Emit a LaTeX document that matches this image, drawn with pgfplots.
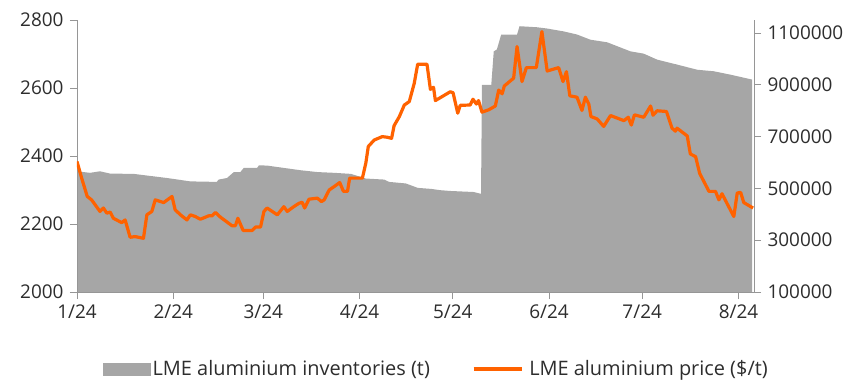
\documentclass[border=0pt]{standalone}
\usepackage{pgfplots}
\pgfplotsset{compat=1.18}
\usepackage{fontspec}
\setmainfont{Open Sans}

\definecolor{invgray}{RGB}{166,166,166}
\definecolor{ingorange}{RGB}{255,98,0}
\definecolor{axgray}{RGB}{150,150,150}
\definecolor{txt}{RGB}{45,45,45}

\pgfplotsset{
  common/.style={
    scale only axis, width=677bp, height=272bp,
    at={(0,0)}, anchor=south west,
    xmin=0, xmax=218,
    tick align=outside, major tick length=7bp,
    every tick/.style={axgray, line width=0.8bp},
    axis line style={axgray, line width=0.8bp},
    tick label style={font=\fontsize{19}{23}\selectfont, text=txt},
    /pgf/number format/assume math mode=true,
    /pgf/number format/fixed,
    /pgf/number format/1000 sep={},
    scaled y ticks=false,
  }
}

\begin{document}
\begin{tikzpicture}
\path[use as bounding box] (-77bp,-89bp) rectangle (779bp,292bp);

% LME inventories (right axis), drawn first as the grey area
\begin{axis}[common,
  axis x line=none, axis y line*=right,
  ymin=100000, ymax=1150000,
  ytick={100000,300000,500000,700000,900000,1100000},
  yticklabels={100000,300000,500000,700000,900000,1100000},
  yticklabel style={xshift=3bp},
]
\addplot[fill=invgray, draw=none] coordinates {
(0,566000) (4.2,560000) (7.4,566000) (10.7,557000) (18.2,556000)
(29,540000) (36.5,527000) (45,525000) (45.6,534000) (48.3,540000)
(50.5,563000) (52.6,563000) (53.7,579000) (58,579000) (58.6,589000)
(61.2,588000) (66.6,579000) (72,570000) (77.4,563000) (82.8,560000)
(88.2,556000) (93,538000) (98.9,534000) (100.5,525000) (105.9,519000)
(109.7,502000) (114,498000) (117,493000) (120.2,490000) (127.7,486000)
(129.7,480000) (130.1,480000) (130.4,900000) (133.4,900000) (134.2,1029000)
(135.2,1036000) (136.6,1094000) (141.7,1094000) (142.5,1126000) (148.1,1122000)
(151.4,1117000) (156.7,1106000) (161,1094000) (165.3,1074000) (170.7,1064000)
(178.2,1029000) (182.5,1020000) (186.8,997000) (193.2,978000) (199.7,958000)
(205.1,952000) (210.4,939000) (217.4,920000)
} \closedcycle;
\end{axis}

% LME price (left axis) with dates along the bottom
\begin{axis}[common,
  axis x line*=bottom, axis y line*=left,
  ymin=2000, ymax=2800,
  ytick={2000,2200,2400,2600,2800},
  yticklabels={2000,2200,2400,2600,2800},
  yticklabel style={xshift=-3bp},
  xtick={0,31,60,91,121,152,182,213},
  xticklabels={1/24,2/24,3/24,4/24,5/24,6/24,7/24,8/24},
  xticklabel style={yshift=-2bp},
  legend style={at={(0.531,-0.283)}, anchor=center, draw=none, fill=none,
    font=\fontsize{20}{24}\selectfont, text=txt,
    legend columns=2,
    /tikz/every even column/.append style={column sep=40bp}},
]
\addlegendimage{legend image code/.code={\fill[invgray] (0bp,-6bp) rectangle (47bp,6bp);}}
\addlegendentry{LME aluminium inventories (t)}
\addplot[ingorange, line width=3.2bp, line join=round,
  legend image code/.code={\draw[ingorange, line width=3.6bp] (0bp,0bp) -- (48bp,0bp);
    \path (52bp,0bp);}]
coordinates {
(0,2384) (1.5,2335) (3.3,2281) (4.7,2271) (7.4,2237) (8.5,2247) (9.6,2232)
(10.7,2235) (11.7,2217) (14.4,2204) (15.5,2212) (17.1,2161) (18.7,2163)
(21.4,2158) (22.5,2227) (24.1,2237) (25.2,2271) (27.9,2263) (30.6,2281)
(31.6,2242) (33.3,2227) (35.4,2212) (36.5,2227) (38.1,2222) (39.7,2214)
(42.4,2224) (43.5,2224) (44.6,2234) (46.2,2220) (49.9,2195) (51,2195)
(51.8,2217) (53.5,2181) (56.4,2181) (57.5,2191) (59.1,2191) (60.2,2237)
(61.2,2247) (64.5,2227) (66.6,2251) (67.7,2237) (69.8,2251) (71.5,2261)
(72.5,2264) (73.3,2247) (74.7,2273) (77.4,2276) (78.7,2266) (79.6,2271)
(81.2,2300) (82.8,2310) (84.6,2322) (85.8,2296) (87.1,2296) (87.8,2335)
(91.9,2335) (93,2379) (93.8,2428) (95.7,2447) (98.3,2457) (100,2455)
(101.3,2452) (102.1,2489) (103.8,2516) (105.4,2550) (107,2560) (108.6,2614)
(109.7,2670) (112.7,2670) (113.8,2596) (114.8,2602) (115.4,2563) (120.2,2589)
(121.1,2586) (122.6,2526) (123.4,2549) (126.6,2550) (127.5,2567) (128.6,2553)
(129.3,2563) (130.4,2529) (132.6,2536) (134.7,2547) (135.8,2594) (136.9,2583)
(137.6,2606) (140.6,2629) (141.7,2722) (143.3,2619) (144.7,2660) (147.9,2660)
(149.7,2766) (151.4,2650) (155.1,2660) (156.5,2619) (157.6,2648) (158.7,2577)
(161,2573) (162.6,2534) (163.7,2573) (164.8,2553) (165.5,2516) (167.5,2509)
(169.6,2487) (171.8,2519) (176.1,2504) (177.5,2514) (178.5,2491) (179.5,2521)
(182.5,2514) (184.7,2547) (185.5,2520) (186.8,2533) (189.8,2531) (191.6,2482)
(192.7,2473) (193.2,2482) (196.5,2459) (197.5,2406) (199.2,2398) (200.5,2349)
(203.5,2296) (205.6,2296) (206.7,2271) (207.7,2289) (211.5,2222) (212.6,2291)
(213.7,2293) (214.7,2263) (217.7,2247)
};
\addlegendentry{LME aluminium price (\$/t)}
\end{axis}
\end{tikzpicture}
\end{document}
